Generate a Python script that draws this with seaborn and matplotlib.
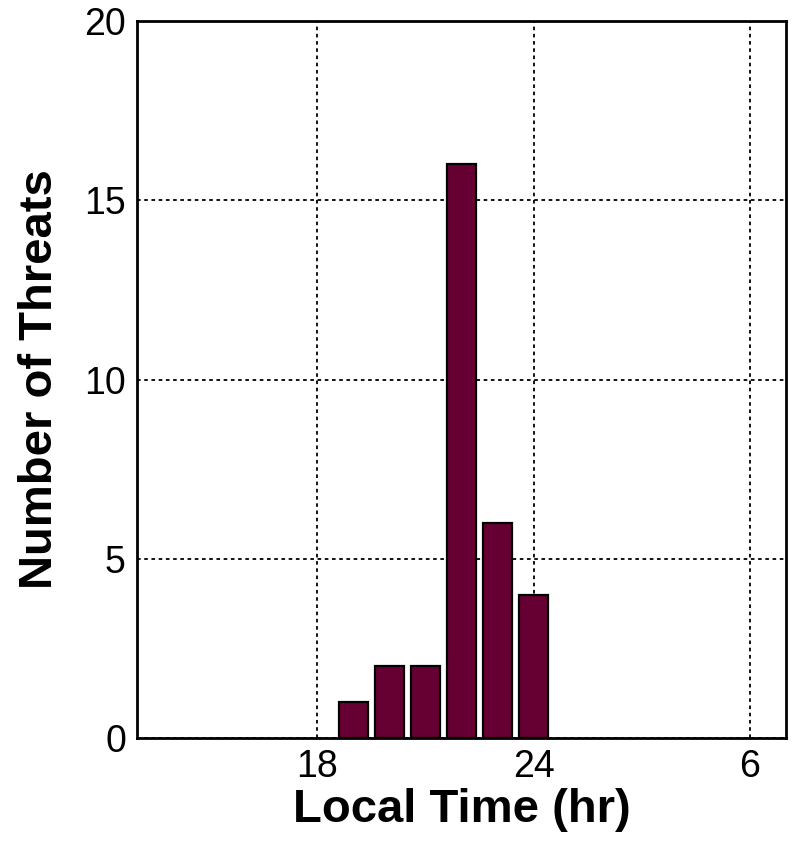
import matplotlib
matplotlib.use("Agg")
import matplotlib.pyplot as plt
import seaborn as sns
import pandas as pd

hours = [19, 20, 21, 22, 23, 24]
counts = [1, 2, 2, 16, 6, 4]
xtick_pos = [18, 24, 30]
xtick_labels = ["18", "24", "6"]
ytick_pos = [0, 5, 10, 15, 20]

sns.set_theme(style="white")
plt.rcParams['font.family'] = ['Liberation Sans', 'DejaVu Sans']
plt.rcParams['text.color'] = 'black'
plt.rcParams['axes.labelcolor'] = 'black'

df = pd.DataFrame({"hour": hours, "count": counts})

fig = plt.figure(figsize=(7.94, 8.52), dpi=100)
ax = fig.add_axes([137/794, 114/852, (786-137)/794, (738-21)/852])

sns.barplot(data=df, x="hour", y="count", native_scale=True, width=0.8,
            color="#660033", saturation=1, edgecolor="black", linewidth=1.6,
            ax=ax, zorder=3)

ax.set_xlim(13, 31)
ax.set_ylim(0, 20)
ax.set_xticks(xtick_pos)
ax.set_xticklabels(xtick_labels)
ax.set_yticks(ytick_pos)
ax.grid(True, color="black", linestyle=(0, (2, 2)), linewidth=1.3, zorder=0)
ax.set_axisbelow(True)
ax.tick_params(axis="both", length=0, labelsize=27, pad=8,
               colors="black", labelcolor="black")
for s in ax.spines.values():
    s.set_visible(True)
    s.set_color("black")
    s.set_linewidth(2)
ax.set_xlabel("Local Time (hr)", fontsize=34, fontweight="bold",
              labelpad=2, color="black")
ax.set_ylabel("Number of Threats", fontsize=34, fontweight="bold",
              labelpad=16, color="black")

fig.savefig("out.png", dpi=100)
